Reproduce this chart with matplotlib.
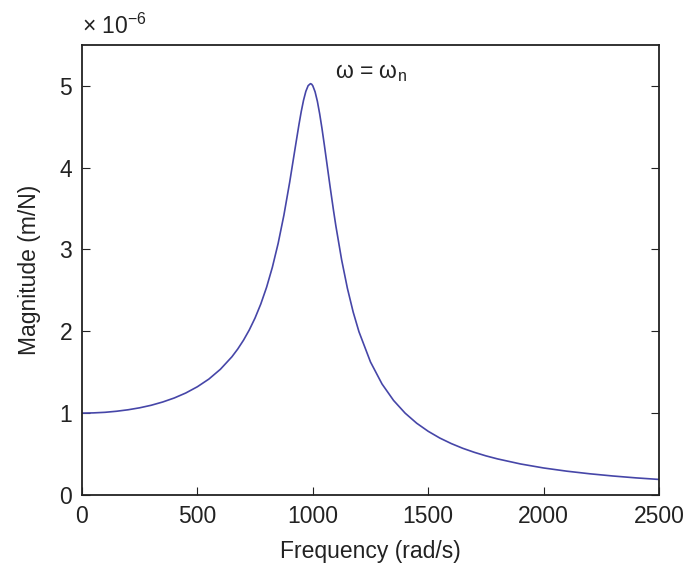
import numpy as np
import matplotlib.pyplot as plt

# Values (magnitude in units of 1e-6 m/N)
freq = [0, 50, 100, 150, 200, 250, 300, 350, 400, 450, 500, 550, 600,
        650, 675, 700, 725, 750, 775, 800, 825, 850, 875, 900, 925, 940,
        950, 960, 970, 980, 990, 995, 1000, 1010, 1020, 1030, 1040, 1050,
        1060, 1075, 1090, 1100, 1125, 1150, 1175, 1200, 1250, 1300, 1350,
        1400, 1450, 1500, 1550, 1600, 1650, 1700, 1750, 1800, 1900, 2000,
        2100, 2200, 2300, 2400, 2500]
mag = [1.000, 1.003, 1.010, 1.023, 1.041, 1.065, 1.096, 1.136, 1.185,
       1.246, 1.322, 1.416, 1.536, 1.689, 1.783, 1.891, 2.016, 2.162,
       2.334, 2.538, 2.782, 3.073, 3.419, 3.821, 4.261, 4.522, 4.683,
       4.822, 4.931, 5.001, 5.025, 5.019, 5.000, 4.926, 4.809, 4.655,
       4.476, 4.279, 4.075, 3.768, 3.473, 3.288, 2.873, 2.525, 2.235,
       1.995, 1.625, 1.356, 1.155, 1.000, 0.877, 0.778, 0.696, 0.628,
       0.570, 0.521, 0.478, 0.441, 0.379, 0.330, 0.291, 0.259, 0.232,
       0.209, 0.190]

x_ticks = [0, 500, 1000, 1500, 2000, 2500]
y_ticks = [0, 1, 2, 3, 4, 5]

plt.rcParams['font.family'] = ['Liberation Sans', 'DejaVu Sans']
plt.rcParams['mathtext.fontset'] = 'custom'
plt.rcParams['mathtext.rm'] = 'Liberation Sans'
plt.rcParams['mathtext.it'] = 'Liberation Sans'

fig = plt.figure(figsize=(6.88, 5.67), dpi=100)
ax = fig.add_axes([0.119, 0.127, 0.839, 0.794])

ax.plot(np.array(freq), np.array(mag), color='#4646a8', linewidth=1.2)

ax.set_xlim(0, 2500)
ax.set_ylim(0, 5.5)
ax.set_xticks(x_ticks)
ax.set_yticks(y_ticks)
ax.tick_params(direction='in', length=6, labelsize=16.5, top=False, right=True,
               pad=7, colors='#222222', labelcolor='#222222')
for s in ax.spines.values():
    s.set_linewidth(1.3)
    s.set_color('#222222')

ax.set_xlabel("Frequency (rad/s)", fontsize=16.5, labelpad=9, color='#222222')
ax.set_ylabel("Magnitude (m/N)", fontsize=16.5, labelpad=13, color='#222222')

ax.text(0.0, 1.012, r"× 10$^{\mathrm{−6}}$", transform=ax.transAxes,
        fontsize=16.5, ha='left', va='bottom', color='#222222')
ax.text(1096, 5.16, r"ω = ω$_\mathrm{n}$", fontsize=16.5,
        ha='left', va='center', color='#222222')

fig.savefig("out.png", dpi=100)
